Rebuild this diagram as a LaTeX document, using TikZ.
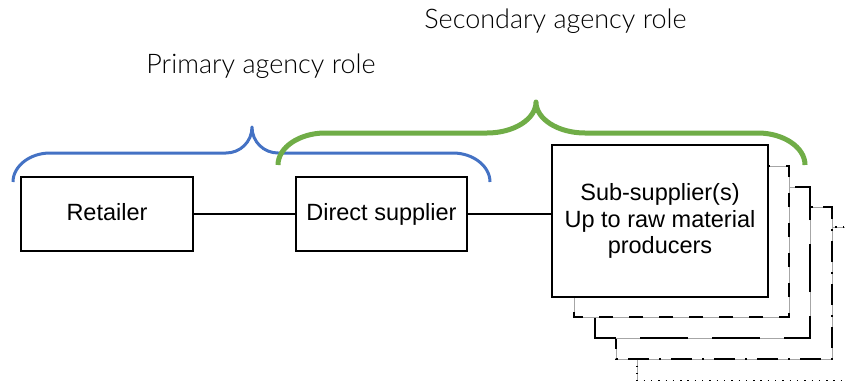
\documentclass[tikz,border=0pt]{standalone}
\usepackage{fontspec}
\setmainfont{Liberation Sans}
\newfontfamily\titlefont{Lato Light}
\usetikzlibrary{calc}

\definecolor{braceblue}{HTML}{4472C4}
\definecolor{bracegreen}{HTML}{70AD47}

\tikzset{
  entity/.style={draw=black, line width=2pt, fill=white, outer sep=0pt,
    font=\fontsize{23.5}{26.5}\selectfont},
  oneline/.style={text height=17pt, text depth=5pt},
  link/.style={draw=black, line width=1.5pt},
  stackbase/.style={fill=white, draw=black!35, line width=0.7pt},
  stackline/.style={draw=black, line width=2.5pt},
  role/.style={font=\titlefont\fontsize{27}{30}\selectfont, text=black, anchor=base},
  brace/.style={line cap=butt, line join=round}
}

\begin{document}
\begin{tikzpicture}[x=1pt, y=-1pt]
\useasboundingbox (0,0) rectangle (845,380);

% stacked sub-supplier tiers, back to front
\coordinate (t5a) at (637,227); \coordinate (t5b) at (853,381);
\coordinate (t4a) at (616,207); \coordinate (t4b) at (832,359);
\coordinate (t3a) at (595,187); \coordinate (t3b) at (810,338);
\coordinate (t2a) at (574,166); \coordinate (t2b) at (789,317);

\path[stackbase] (t5a) rectangle (t5b);
\draw[line width=1.6pt, dash pattern=on 1.4pt off 5.9pt] (t5a) rectangle (t5b);

\path[stackbase] (t4a) rectangle (t4b);
\draw[stackline, dash pattern=on 21pt off 10pt on 2pt off 10pt, dash phase=8pt] (t4a) rectangle (t4b);

\path[stackbase] (t3a) rectangle (t3b);
\draw[stackline, dash pattern=on 48pt off 24pt, dash phase=20pt] (t3a) rectangle (t3b);

\path[stackbase] (t2a) rectangle (t2b);
\draw[stackline, dash pattern=on 14pt off 16pt, dash phase=4pt] (t2a) rectangle (t2b);

% main chain
\node[entity, oneline, minimum width=172pt, minimum height=74pt] (ret) at (107,214) {Retailer};
\node[entity, oneline, minimum width=171pt, minimum height=74pt] (dir) at (381.5,214) {Direct supplier};
\node[entity, minimum width=216pt, minimum height=152pt, align=center] (sub) at (660,221)
  {Sub-supplier(s)\\Up to raw material\\producers};

\draw[link] (ret.east) -- (dir.west);
\draw[link] (dir.east) -- (dir.east -| sub.west);

% agency role braces
\coordinate (pl) at (13,182);
\coordinate (pt) at (252,127);
\coordinate (pr) at (490,182);
\draw[brace, braceblue, line width=3pt]
  (pl) .. controls (13,166) and (30,153) .. (50,153)
  -- (226,153) .. controls (240,153) and (252,142) .. (pt)
  .. controls (252,142) and (264,153) .. (278,153)
  -- (453,153) .. controls (473,153) and (490,166) .. (pr);

\coordinate (sl) at (278,165);
\coordinate (st) at (536,102);
\coordinate (sr) at (805,165);
\draw[brace, bracegreen, line width=5pt]
  (sl) .. controls (278,147) and (300,133) .. (325,133)
  -- (487,133) .. controls (514,133) and (536,119) .. (st)
  .. controls (536,119) and (558,133) .. (585,133)
  -- (758,133) .. controls (783,133) and (805,147) .. (sr);

\node[role] (primary) at (261,73) {Primary agency role};
\node[role] (secondary) at (555.5,28.5) {Secondary agency role};
\end{tikzpicture}
\end{document}
